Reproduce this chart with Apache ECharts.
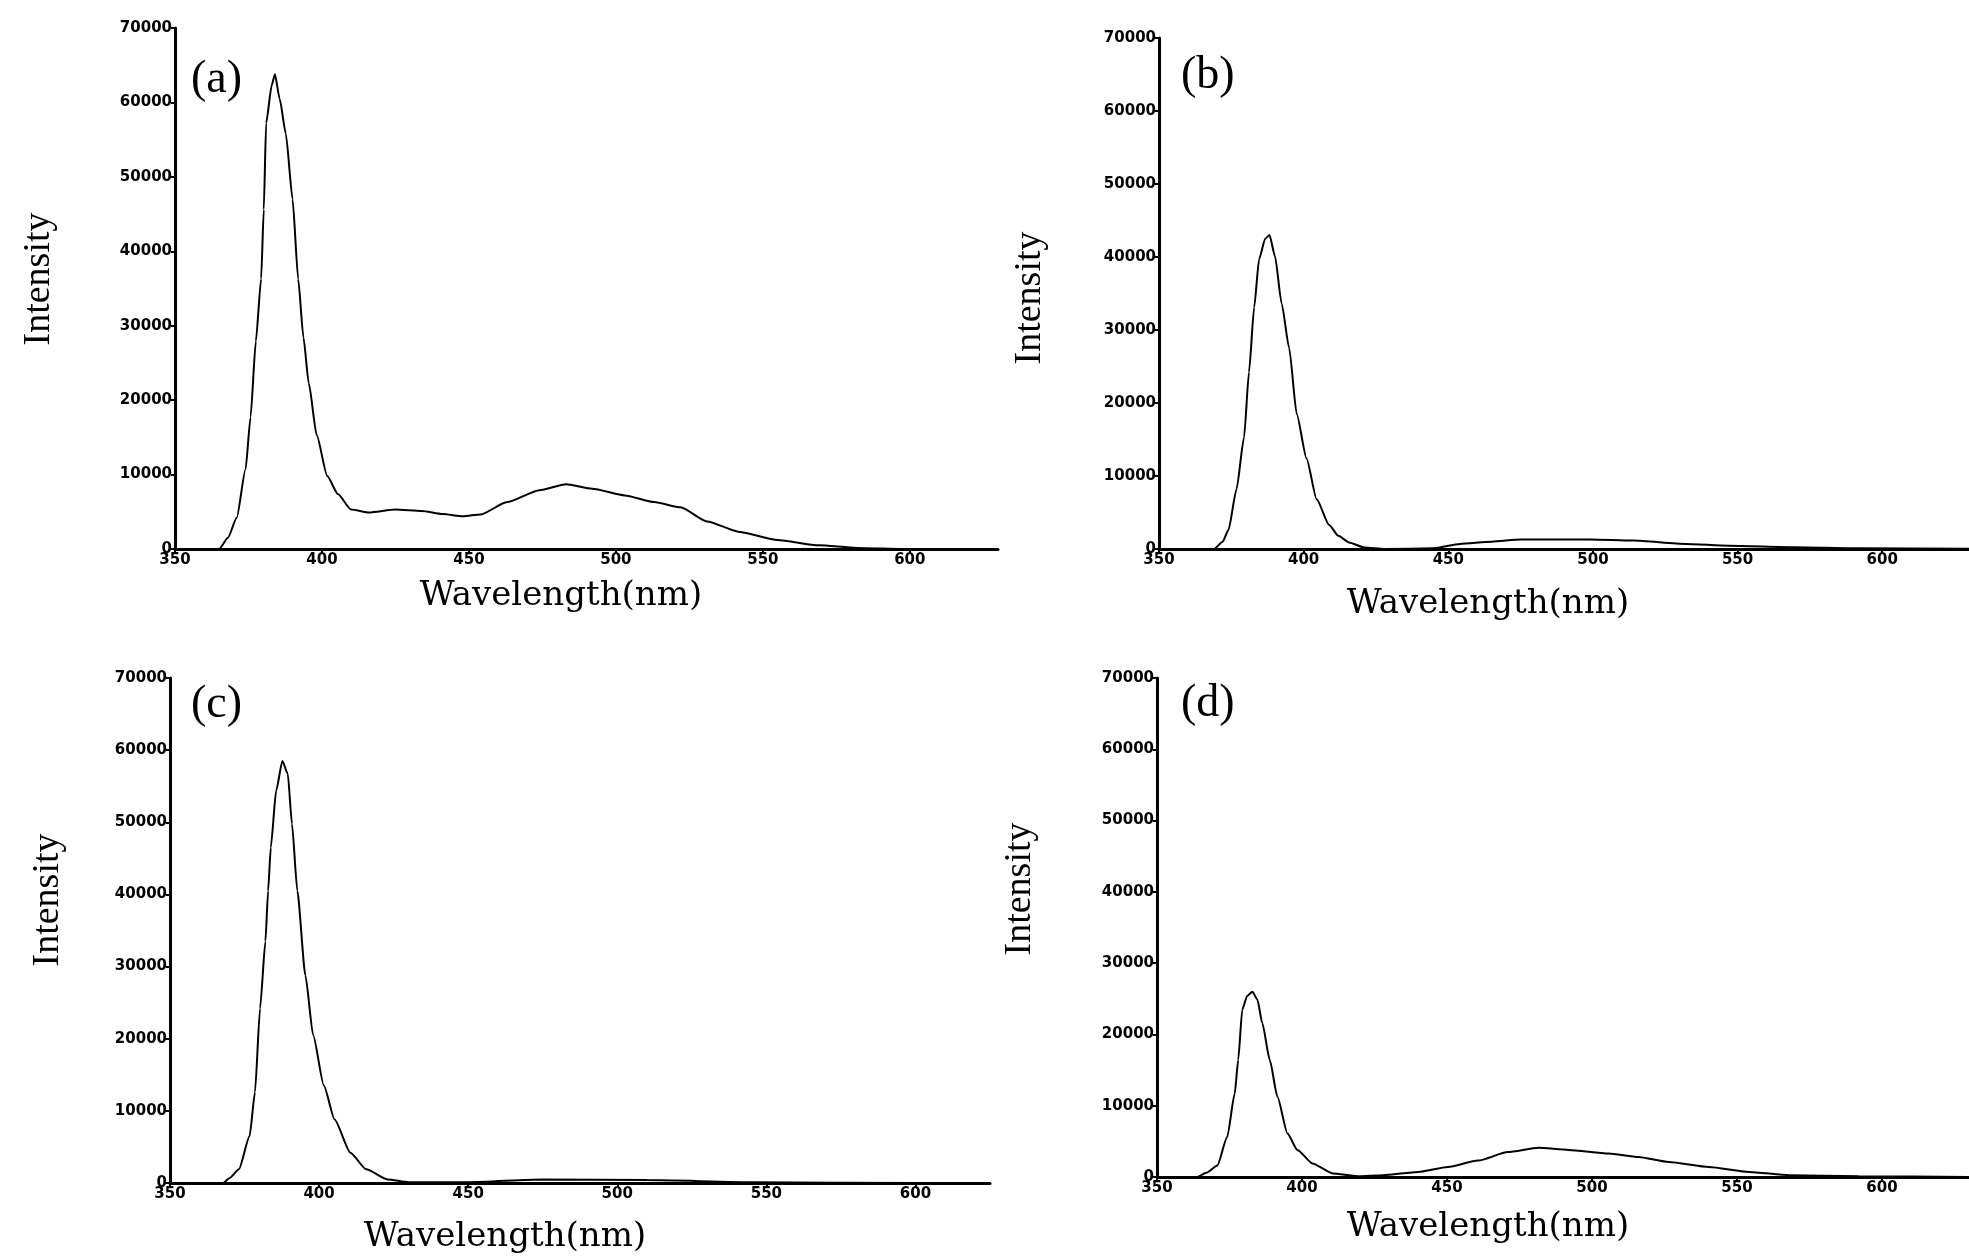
<!DOCTYPE html>
<html>
<head>
<meta charset="utf-8">
<title>Fluorescence spectra</title>
<script src="https://cdn.jsdelivr.net/npm/echarts@6/dist/echarts.min.js"></script>
<style>
  html, body { margin: 0; padding: 0; background: #fff; }
  #chart { width: 1969px; height: 1256px; }
</style>
</head>
<body>
<div id="chart"></div>
<script>
// [wavelength (nm), intensity]
const spectrumA = [[350, 0], [365, 0], [368, 1500], [371, 4200], [374, 10700], [375.7, 17700], [377.5, 27900],
  [379.3, 36300], [380.2, 45600], [381, 57200], [382.9, 62300], [384, 63800], [385.6, 60500], [387.7, 55800],
  [390, 47000], [391.9, 36300], [393.7, 28400], [395.5, 22300], [398.2, 15300], [401.8, 9800], [405.4, 7400],
  [409.9, 5300], [416, 4900], [425, 5300], [434, 5100], [441, 4700], [448, 4400], [454, 4650], [463, 6300],
  [474, 7900], [483, 8700], [492, 8100], [503, 7200], [513, 6300], [522, 5600], [531, 3700], [542, 2300],
  [555, 1200], [569, 500], [582, 150], [600, 0], [630, 0]];

const spectrumB = [[350, 0], [369, 0], [372, 1000], [374, 2600], [376.8, 8200], [379.4, 15300], [381.1, 24200],
  [382.9, 33100], [384.6, 39700], [386.7, 42500], [388.2, 43000], [390.1, 40100], [392.4, 33600], [395, 27500],
  [397.6, 18500], [401, 12400], [404.5, 6800], [408.8, 3300], [412, 1800], [415.7, 900], [421, 200], [428, 0],
  [445, 100], [454, 700], [465, 1000], [475, 1300], [499, 1300], [514, 1150], [532, 700], [547, 450],
  [570, 250], [592, 100], [630, 50]];

const spectrumC = [[350, 0], [367.8, 0], [370, 700], [373.1, 1900], [376.7, 6500], [378.5, 12600], [380.2, 24200],
  [382, 33500], [382.9, 40500], [383.8, 46500], [385.6, 54400], [387.7, 58500], [389.5, 56700], [390.9, 49800],
  [392.7, 40500], [395.4, 28800], [398, 20500], [401.6, 13500], [405.2, 8800], [410.5, 4200], [415.8, 1900],
  [423, 500], [430, 100], [450, 100], [475, 500], [510, 400], [546, 100], [600, 0], [625, 0]];

const spectrumD = [[350, 0], [363.8, 0], [367, 600], [370.8, 1600], [374.2, 5600], [376.8, 11700], [378, 16400],
  [379.4, 23500], [381.1, 25400], [382.9, 26000], [384.6, 24900], [386.3, 21600], [388.9, 16400], [391.5, 11300],
  [395, 6100], [398.4, 3800], [403.6, 1900], [410.6, 500], [419, 100], [428, 250], [440, 700], [450.3, 1400],
  [460.7, 2300], [471, 3500], [481.5, 4100], [491.9, 3800], [505.7, 3300], [516, 2800], [526.5, 2100],
  [540.3, 1400], [554.2, 700], [568, 250], [592, 100], [630, 0]];

const panelNames = ['(a)', '(b)', '(c)', '(d)'];
const xAxisName = 'Wavelength(nm)';
const yAxisName = 'Intensity';
const xMin = 350;
const xMaxes = [630, 630, 625, 630];
const xStep = 50;
const yMax = 70000;
const yStep = 10000;

// layout of the four panels (px)
const layout = [
  { left: 175, top: 28, width: 823, height: 521, label: [191, 80], xName: [561, 596], yName: [39, 279] },
  { left: 1159, top: 38, width: 834, height: 511, label: [1181, 76], xName: [1488, 604], yName: [1030, 298] },
  { left: 170, top: 678, width: 820, height: 505, label: [191, 705], xName: [505, 1237], yName: [48, 900] },
  { left: 1157, top: 678, width: 834, height: 499, label: [1181, 704], xName: [1488, 1227], yName: [1020, 889] }
];

const spectra = [spectrumA, spectrumB, spectrumC, spectrumD];

const chart = echarts.init(document.getElementById('chart'));

const tickFont = {
  color: '#000',
  fontFamily: 'DejaVu Sans',
  fontWeight: 'bold',
  fontSize: 15,
  formatter: v => String(v)
};

const graphics = [];
layout.forEach((p, i) => {
  graphics.push({
    type: 'text', x: p.label[0], y: p.label[1],
    style: { text: panelNames[i], fill: '#000', font: '46px "Liberation Serif"', textAlign: 'left', textVerticalAlign: 'middle', align: 'left', verticalAlign: 'middle' }
  });
  graphics.push({
    type: 'text', x: p.xName[0], y: p.xName[1],
    style: { text: xAxisName, fill: '#000', font: '34px "DejaVu Serif"', textAlign: 'center', textVerticalAlign: 'middle', align: 'center', verticalAlign: 'middle' }
  });
  graphics.push({
    type: 'text', x: p.yName[0], y: p.yName[1], rotation: Math.PI / 2,
    style: { text: yAxisName, fill: '#000', font: '38px "Liberation Serif"', textAlign: 'center', textVerticalAlign: 'middle', align: 'center', verticalAlign: 'middle' }
  });
});

const option = {
  animation: false,
  backgroundColor: '#fff',
  grid: layout.map(p => ({ left: p.left, top: p.top, width: p.width, height: p.height })),
  xAxis: layout.map((p, i) => ({
    gridIndex: i,
    type: 'value',
    min: xMin,
    max: xMaxes[i],
    interval: xStep,
    axisLine: { show: true, onZero: false, lineStyle: { color: '#000', width: 3 } },
    axisTick: { show: true, length: 4, lineStyle: { color: '#000', width: 2 } },
    axisLabel: Object.assign({ margin: 4, showMaxLabel: false }, tickFont),
    splitLine: { show: false }
  })),
  yAxis: layout.map((p, i) => ({
    gridIndex: i,
    type: 'value',
    min: 0,
    max: yMax,
    interval: yStep,
    axisLine: { show: true, lineStyle: { color: '#000', width: 3 } },
    axisTick: { show: true, length: 4, lineStyle: { color: '#000', width: 2 } },
    axisLabel: Object.assign({ margin: 3 }, tickFont),
    splitLine: { show: false }
  })),
  series: spectra.map((data, i) => ({
    type: 'line',
    xAxisIndex: i,
    yAxisIndex: i,
    data: data,
    symbol: 'none',
    smooth: 0.2,
    smoothMonotone: 'x',
    lineStyle: { color: '#000', width: 2 }
  })),
  graphic: graphics
};

chart.setOption(option);
</script>
</body>
</html>
